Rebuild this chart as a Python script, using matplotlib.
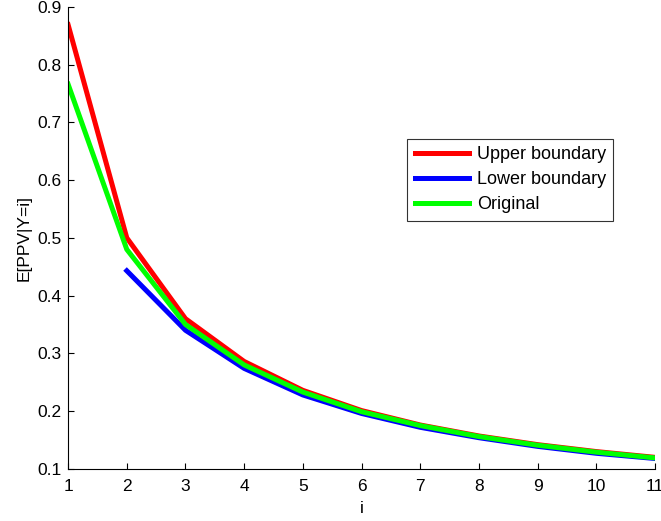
import matplotlib
matplotlib.use('Agg')
import matplotlib.pyplot as plt

plt.rcParams['font.family'] = ['Liberation Sans', 'DejaVu Sans']

i_vals = [1, 2, 3, 4, 5, 6, 7, 8, 9, 10, 11]
upper = [0.869, 0.500, 0.360, 0.286, 0.236, 0.201, 0.176, 0.157, 0.142, 0.130, 0.120]
lower_i = [2, 3, 4, 5, 6, 7, 8, 9, 10, 11]
lower = [0.443, 0.340, 0.274, 0.228, 0.196, 0.172, 0.154, 0.139, 0.127, 0.118]
original = [0.766, 0.480, 0.350, 0.280, 0.233, 0.199, 0.175, 0.156, 0.141, 0.129, 0.119]

fig = plt.figure(figsize=(6.61, 5.21), dpi=100)
ax = fig.add_axes([0.103, 0.1, 0.888, 0.887])

ax.plot(i_vals, upper, color='#ff0000', lw=3.6, label='Upper boundary')
ax.plot(lower_i, lower, color='#0000ff', lw=3.6, label='Lower boundary')
ax.plot(i_vals, original, color='#00ff00', lw=3.6, label='Original')

ax.set_xlim(1, 11)
ax.set_ylim(0.1, 0.9)
ax.set_xticks(range(1, 12))
ax.set_yticks([0.1, 0.2, 0.3, 0.4, 0.5, 0.6, 0.7, 0.8, 0.9])
ax.set_yticklabels(['0.1', '0.2', '0.3', '0.4', '0.5', '0.6', '0.7', '0.8', '0.9'])
ax.tick_params(direction='in', labelsize=12.5, length=4, pad=5)
ax.tick_params(axis='x', pad=7)
ax.spines['top'].set_visible(False)
ax.spines['right'].set_visible(False)
ax.set_xlabel('i', fontsize=12.5, labelpad=5)
ax.set_ylabel('E[PPV|Y=i]', fontsize=12.5, labelpad=4)

leg = ax.legend(loc='upper left', bbox_to_anchor=(0.578, 0.714), fontsize=13,
                frameon=True, fancybox=False, edgecolor='black',
                handlelength=3.0, borderaxespad=0, labelspacing=0.45,
                borderpad=0.4, handletextpad=0.45)
leg.get_frame().set_linewidth(0.8)

fig.savefig('out.png', dpi=100)
